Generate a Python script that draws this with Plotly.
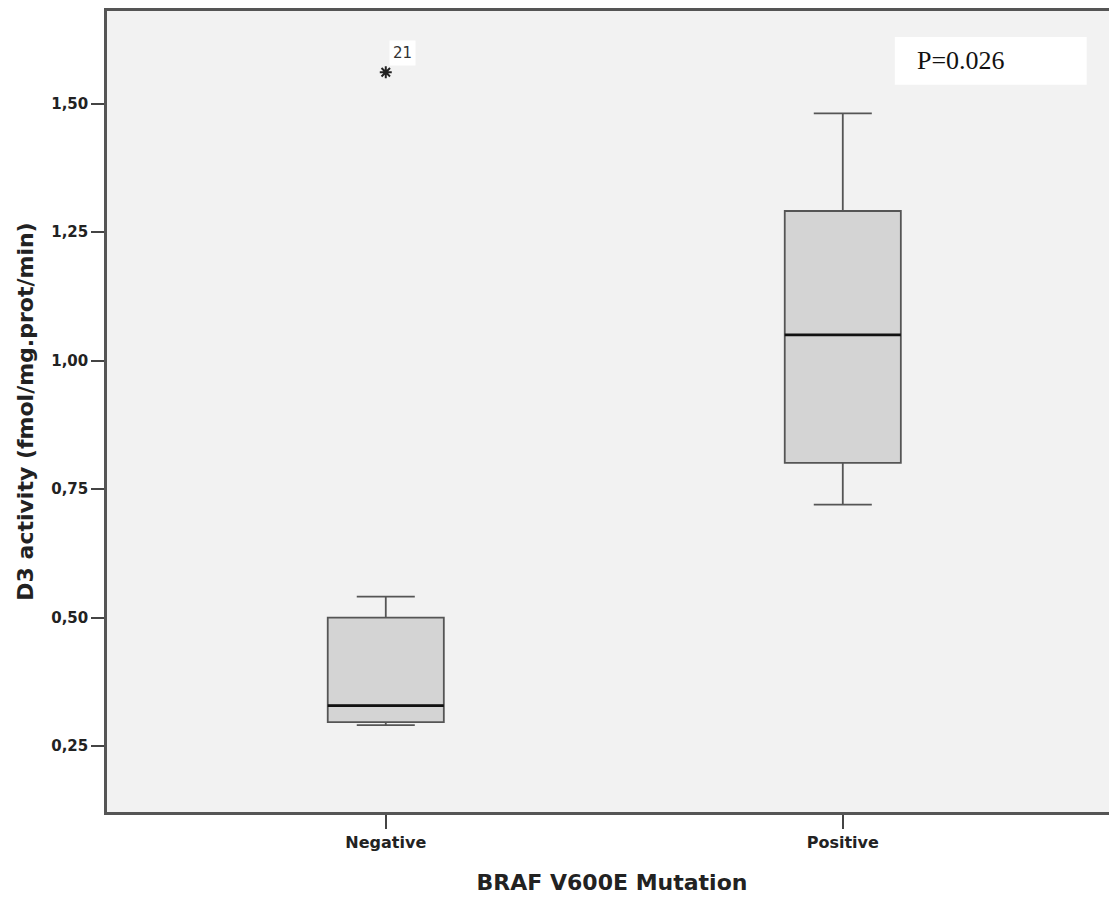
import plotly.graph_objects as go

categories = ["Negative", "Positive"]
q1 = [0.297, 0.801]
median = [0.329, 1.050]
q3 = [0.500, 1.291]
lower_whisker = [0.291, 0.720]
upper_whisker = [0.541, 1.481]
outlier_group = [0]
outlier_value = [1.561]
outlier_label = ["21"]
y_ticks = [0.25, 0.50, 0.75, 1.00, 1.25, 1.50]
p_text = "P=0.026"

box_w = 0.254
xpos = list(range(len(categories)))
SANS = "DejaVu Sans, Liberation Sans, Arial"

fig = go.Figure()
for i, c in enumerate(categories):
    fig.add_trace(go.Box(
        x=[xpos[i]], q1=[q1[i]], median=[median[i]], q3=[q3[i]],
        lowerfence=[lower_whisker[i]], upperfence=[upper_whisker[i]],
        width=box_w, whiskerwidth=0.5, boxpoints=False,
        fillcolor="#d4d4d4", line=dict(color="#555555", width=1.8),
        showlegend=False, hoverinfo="skip"))
    fig.add_trace(go.Scatter(
        x=[xpos[i] - box_w / 2, xpos[i] + box_w / 2], y=[median[i], median[i]],
        mode="lines", line=dict(color="#111111", width=2.8),
        showlegend=False, hoverinfo="skip"))

fig.add_trace(go.Scatter(
    x=[xpos[g] for g in outlier_group], y=outlier_value, mode="markers",
    marker=dict(symbol="asterisk-open", size=10, color="#222222",
                line=dict(color="#222222", width=2)),
    showlegend=False, hoverinfo="skip"))
for g, v, t in zip(outlier_group, outlier_value, outlier_label):
    fig.add_annotation(x=xpos[g], y=v, text=t, showarrow=False,
                       xanchor="left", yanchor="bottom", xshift=3, yshift=6,
                       bgcolor="white", borderpad=3,
                       font=dict(family=SANS, size=15, color="#333333"))

# white label box for the p-value
fig.add_shape(type="rect", xref="paper", yref="paper",
              x0=0.780, x1=0.970, y0=0.908, y1=0.9675,
              fillcolor="white", line=dict(width=0), layer="above")
fig.add_annotation(xref="paper", yref="paper", x=0.800, y=0.938, text=p_text,
                   showarrow=False, xanchor="left", yanchor="middle",
                   font=dict(family="Liberation Serif, DejaVu Serif, serif", size=26, color="#111111"))

fig.update_layout(
    width=1109, height=897,
    margin=dict(l=99, r=0, t=3, b=93),
    paper_bgcolor="white", plot_bgcolor="#f2f2f2",
    separators=",.",
    xaxis=dict(range=[-0.61, 1.60], tickvals=xpos, ticktext=categories,
               showline=True, linecolor="#555555", linewidth=2.5, mirror=True,
               ticks="outside", ticklen=14, tickwidth=2, tickcolor="#444444",
               showgrid=False, zeroline=False,
               tickfont=dict(family=SANS, size=16, color="#222222", weight="bold"),
               title=dict(text="<b>BRAF V600E Mutation</b>", standoff=24,
                          font=dict(family=SANS, size=22, color="#222222"))),
    yaxis=dict(range=[0.122, 1.68], tickvals=y_ticks, tickformat=".2f",
               showline=True, linecolor="#555555", linewidth=2.5,
               ticks="outside", ticklen=13, tickwidth=2, tickcolor="#444444",
               showgrid=False, zeroline=False,
               tickfont=dict(family=SANS, size=15, color="#222222", weight="bold"),
               title=dict(text="<b>D3 activity (fmol/mg.prot/min)</b>", standoff=12,
                          font=dict(family=SANS, size=22, color="#222222"))),
)

fig.write_html("out.html")
